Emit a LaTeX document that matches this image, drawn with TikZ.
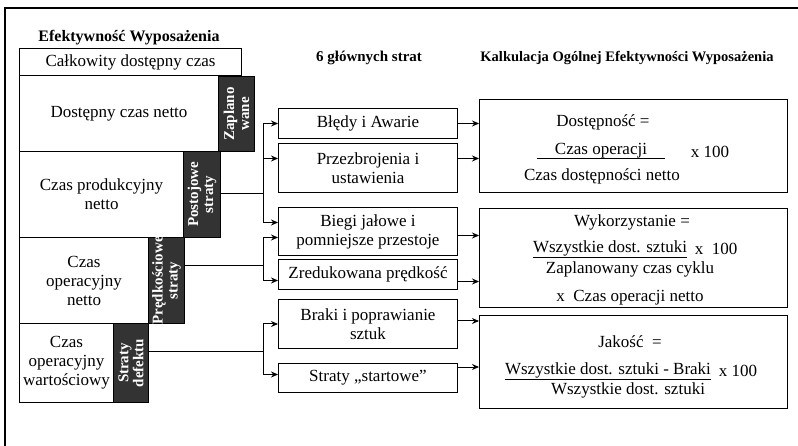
\documentclass[tikz,border=0pt]{standalone}
\usepackage{fontspec}
\setmainfont{Liberation Serif}
\usetikzlibrary{arrows.meta, calc, positioning}

\begin{document}
\begin{tikzpicture}[x=1pt, y=-1pt,
    txt/.style={font=\fontsize{17}{19}\selectfont, align=center, inner sep=0pt},
    head/.style={font=\fontsize{15}{18}\selectfont\bfseries, inner sep=0pt},
    lbox/.style={draw, line width=1pt, fill=white, anchor=north west, inner sep=0pt, align=center, font=\fontsize{17}{19}\selectfont},
    dbox/.style={draw, line width=1pt, fill=black!80, anchor=north west, inner sep=0pt},
    dlab/.style={text=white, rotate=90, align=center, inner sep=0pt, font=\fontsize{15}{15}\selectfont\bfseries},
    mbox/.style={draw, line width=1pt, minimum width=179pt, anchor=north west, inner sep=0pt, align=center, font=\fontsize{17}{19}\selectfont},
    rbox/.style={draw, line width=1pt, minimum width=308pt, anchor=north west, inner sep=0pt},
    wire/.style={line width=1pt},
    arr/.style={->, >={Stealth[length=7pt, width=6pt]}, line width=1pt}]
    \useasboundingbox (0,0) rectangle (798,446);

    % Frame
    \draw[line width=1.2pt] (5,446) -- (5,8) -- (798,8);

    % Headers
    \node[head, font=\fontsize{16}{18}\selectfont\bfseries] (efekt) at (129,38) {Efektywność Wyposażenia};
    \node[head] (glowne) at (369,58) {6 głównych strat};
    \node[head, font=\fontsize{14.5}{18}\selectfont\bfseries] (kalk) at (627,58) {Kalkulacja Ogólnej Efektywności Wyposażenia};

    % Time blocks (left)
    \node[lbox, minimum width=222pt, minimum height=27pt] (calk) at (19,48) {Całkowity dostępny czas};
    \node[lbox, minimum width=199pt, minimum height=76pt] (dostn) at (19,75) {Dostępny czas netto};
    \node[lbox, minimum width=164pt, minimum height=86pt] (prod) at (19,151) {Czas produkcyjny\\netto};
    \node[lbox, minimum width=129pt, minimum height=86pt] (oper) at (19,237) {Czas\\operacyjny\\netto};
    \node[lbox, minimum width=94pt, minimum height=79pt] (wart) at (19,323) {Czas\\operacyjny\\wartościowy};

    % Loss blocks (dark)
    \node[dbox, minimum width=36pt, minimum height=75pt] (zapl) at (218,76) {};
    \node[dlab] (zaplt) at (zapl.center) {Zaplano\\wane};
    \node[dbox, minimum width=37pt, minimum height=86pt] (postoj) at (183,151) {};
    \node[dlab] (postojt) at (postoj.center) {Postojowe\\straty};
    \node[dbox, minimum width=36pt, minimum height=86pt] (predk) at (148,237) {};
    \node[dlab] (predkt) at (predk.center) {Prędkościowe\\straty};
    \node[dbox, minimum width=35pt, minimum height=79pt] (defekt) at (113,323) {};
    \node[dlab] (defektt) at (defekt.center) {Straty\\defektu};

    % Six big losses
    \node[mbox, minimum height=30pt] (bledy) at (278,108) {Błędy i Awarie};
    \node[mbox, minimum height=49pt] (przez) at (278,143) {Przezbrojenia i\\ustawienia};
    \node[mbox, minimum height=48pt] (biegi) at (278,207) {Biegi jałowe i\\pomniejsze przestoje};
    \node[mbox, minimum height=30pt] (zred) at (278,259) {Zredukowana prędkość};
    \node[mbox, minimum height=49pt] (braki) at (278,299) {Braki i poprawianie\\sztuk};
    \node[mbox, minimum height=29pt] (straty) at (278,363) {Straty „startowe”};

    % OEE calculation
    \node[rbox, minimum height=93pt] (dost) at (479,99) {};
    \node[txt] (dosttit) at (603,122) {Dostępność =};
    \node[txt, minimum width=128pt] (dostnum) at (601,151) {Czas operacji};
    \draw[wire] (dostnum.south west) -- (dostnum.south east);
    \node[txt] (dostx) at (710,152) {x 100};
    \node[txt] (dostden) at (602,176) {Czas dostępności netto};

    \node[rbox, minimum height=99pt] (wyk) at (479,208) {};
    \node[txt] (wyktit) at (632,222) {Wykorzystanie =};
    \node[txt] (wyknum) at (610,249) {\underline{Wszystkie dost. sztuki}};
    \node[txt] (wykx) at (716,249) {x~~100};
    \node[txt] (wykden) at (630,269) {Zaplanowany czas cyklu};
    \node[txt] (wykop) at (630,298) {x~~Czas operacji netto};

    \node[rbox, minimum height=93pt] (jak) at (479,315) {};
    \node[txt] (jaktit) at (630,342) {Jakość~~=};
    \node[txt] (jaknum) at (608,371) {\underline{Wszystkie dost. sztuki - Braki}};
    \node[txt] (jakx) at (738,371) {x 100};
    \node[txt] (jakden) at (628,390) {Wszystkie dost. sztuki};

    % Loss branches
    \coordinate (j1) at (263,194);
    \coordinate (j2) at (263,266);
    \coordinate (j3) at (263,352);
    \draw[wire] (postoj.east |- j1) -- (j1);
    \draw[wire] (predk.east |- j2) -- (j2);
    \draw[wire] (defekt.east |- j3) -- (j3);
    \draw[arr] (j1) |- (bledy.west);
    \draw[arr] (j1) |- ([yshift=9.5pt]przez.west);
    \draw[arr] (j1) |- ([yshift=9pt]biegi.west);
    \draw[arr] (j2) |- ([yshift=-6pt]biegi.west);
    \draw[arr] (j2) |- ([yshift=-6pt]zred.west);
    \draw[arr] (j3) |- (braki.west);
    \draw[arr] (j3) |- ([yshift=3.5pt]straty.west);

    % Into calculation
    \draw[arr] (bledy.east) -- (bledy.east -| dost.west);
    \draw[arr] ([yshift=9.5pt]przez.east) coordinate (p1) -- (p1 -| dost.west);
    \draw[arr] ([yshift=-4pt]biegi.east) coordinate (p2) -- (p2 -| wyk.west);
    \draw[arr] ([yshift=-7pt]zred.east) coordinate (p3) -- (p3 -| wyk.west);
    \draw[arr] ([yshift=3pt]braki.east) coordinate (p4) -- (p4 -| jak.west);
    \draw[arr] ([yshift=11pt]straty.east) coordinate (p5) -- (p5 -| jak.west);
\end{tikzpicture}
\end{document}
